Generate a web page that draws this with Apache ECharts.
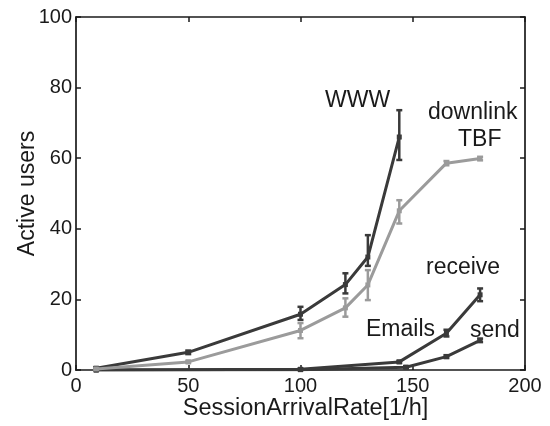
<!DOCTYPE html>
<html>
<head>
<meta charset="utf-8">
<script src="https://cdn.jsdelivr.net/npm/echarts@6/dist/echarts.min.js"></script>
<style>
html,body{margin:0;padding:0;background:#fff;}
#c{width:550px;height:426px;}
</style>
</head>
<body>
<div id="c"></div>
<script>
// ---- data ----
const xTicks = [0, 50, 100, 150, 200];
const yTicks = [0, 20, 40, 60, 80, 100];

const wwwX  = [9, 50, 100, 120, 130, 144];
const wwwY  = [0.5, 5.0, 15.8, 24.2, 32.0, 66.0];
const wwwLo = [0.2, 4.5, 14.2, 21.7, 29.5, 59.5];
const wwwHi = [0.8, 5.5, 17.9, 27.4, 38.2, 73.6];

const tbfX  = [9, 50, 100, 120, 130, 144, 165, 180];
const tbfY  = [0.3, 2.3, 11.2, 17.6, 24.1, 45.1, 58.6, 59.9];
const tbfLo = [0.1, 2.0, 9.0, 15.1, 19.8, 41.5, 58.0, 59.4];
const tbfHi = [0.5, 2.6, 13.3, 20.3, 28.3, 48.1, 59.2, 60.4];

const recX  = [9, 100, 144, 165, 180];
const recY  = [0.0, 0.2, 2.3, 10.4, 21.3];
const recLo = [0.0, 0.0, 2.0, 9.5, 19.5];
const recHi = [0.2, 0.4, 2.6, 11.4, 23.1];

const sndX  = [9, 100, 147, 165, 180];
const sndY  = [0.0, 0.1, 0.8, 3.8, 8.4];
const sndLo = [0.0, 0.0, 0.5, 3.4, 7.9];
const sndHi = [0.2, 0.3, 1.1, 4.2, 8.9];

const annotations = [
  {text: 'WWW', x: 325, y: 108},
  {text: 'downlink', x: 428, y: 120},
  {text: 'TBF', x: 458, y: 147},
  {text: 'receive', x: 426, y: 275},
  {text: 'Emails', x: 366, y: 337},
  {text: 'send', x: 470, y: 338}
];

const DARK = '#3a3a3a';
const GRAY = '#9b9b9b';
const FONT = '"Liberation Sans", Arial, Helvetica, sans-serif';
const ASC = 19; // top-of-box to baseline for 23px text

function pts(xs, ys) { return xs.map((v, i) => [v, ys[i]]); }
function bars(xs, lo, hi) { return xs.map((v, i) => [v, lo[i], hi[i]]); }

function lineSeries(xs, ys, color, z) {
  return {
    type: 'line', data: pts(xs, ys), symbol: 'rect', symbolSize: 5,
    itemStyle: {color: color}, lineStyle: {color: color, width: 3},
    z: z, animation: false
  };
}
function errSeries(xs, lo, hi, color, z) {
  return {
    type: 'custom', data: bars(xs, lo, hi), z: z, animation: false,
    renderItem: function (params, api) {
      const a = api.coord([api.value(0), api.value(1)]);
      const b = api.coord([api.value(0), api.value(2)]);
      const w = 3;
      const st = {stroke: color, lineWidth: 2.5};
      return {type: 'group', children: [
        {type: 'line', shape: {x1: a[0], y1: a[1], x2: b[0], y2: b[1]}, style: st},
        {type: 'line', shape: {x1: a[0] - w, y1: a[1], x2: a[0] + w, y2: a[1]}, style: st},
        {type: 'line', shape: {x1: b[0] - w, y1: b[1], x2: b[0] + w, y2: b[1]}, style: st}
      ]};
    }
  };
}

const chart = echarts.init(document.getElementById('c'), null, {renderer: 'canvas'});

function axisCommon() {
  return {
    axisLine: {show: true, onZero: false, lineStyle: {color: '#1a1a1a', width: 1.7}},
    axisTick: {show: true, inside: true, length: 5, lineStyle: {color: '#1a1a1a', width: 1.5}},
    splitLine: {show: false}
  };
}

chart.setOption({
  backgroundColor: '#ffffff',
  animation: false,
  grid: {left: 76, right: 25, top: 17, bottom: 56, containLabel: false, outerBoundsMode: 'none'},
  xAxis: [
    Object.assign({type: 'value', min: xTicks[0], max: xTicks[xTicks.length - 1], interval: 50, position: 'bottom',
      name: 'SessionArrivalRate[1/h]', nameLocation: 'middle', nameGap: 27, nameMoveOverlap: false,
      nameTextStyle: {fontFamily: FONT, fontSize: 23.5, color: '#1a1a1a', padding: [0, 0, 0, 10]},
      axisLabel: {fontFamily: FONT, fontSize: 20, color: '#1a1a1a', margin: 6}}, axisCommon()),
    Object.assign({type: 'value', min: 0, max: 200, interval: 50, position: 'top', axisLabel: {show: false}}, axisCommon())
  ],
  yAxis: [
    Object.assign({type: 'value', min: yTicks[0], max: yTicks[yTicks.length - 1], interval: 20, position: 'left',
      name: 'Active users', nameLocation: 'middle', nameGap: 37, nameRotate: 90, nameMoveOverlap: false,
      nameTextStyle: {fontFamily: FONT, fontSize: 23, color: '#1a1a1a'},
      axisLabel: {fontFamily: FONT, fontSize: 20, color: '#1a1a1a', margin: 4}}, axisCommon()),
    Object.assign({type: 'value', min: 0, max: 100, interval: 20, position: 'right', axisLabel: {show: false}}, axisCommon())
  ],
  series: [
    lineSeries(sndX, sndY, DARK, 2), errSeries(sndX, sndLo, sndHi, DARK, 2),
    lineSeries(recX, recY, DARK, 2), errSeries(recX, recLo, recHi, DARK, 2),
    lineSeries(wwwX, wwwY, DARK, 3), errSeries(wwwX, wwwLo, wwwHi, DARK, 3),
    lineSeries(tbfX, tbfY, GRAY, 4), errSeries(tbfX, tbfLo, tbfHi, GRAY, 4)
  ],
  graphic: annotations.map(a => ({
    type: 'text', x: a.x, y: a.y - ASC, z: 10,
    style: {text: a.text, fontFamily: FONT, fontSize: 23, fill: '#1a1a1a'}
  }))
});
</script>
</body>
</html>
